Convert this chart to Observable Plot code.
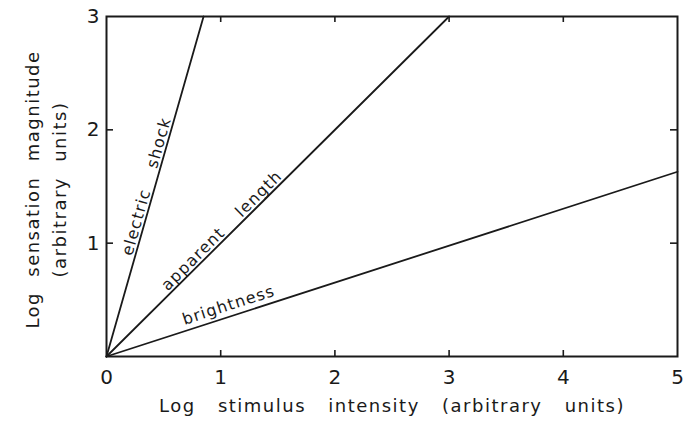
<!DOCTYPE html>
<html>
<head>
<meta charset="utf-8">
<script src="https://cdn.jsdelivr.net/npm/d3@7"></script>
<script src="https://cdn.jsdelivr.net/npm/@observablehq/plot@0.6"></script>
<style>
  html, body { margin: 0; padding: 0; background: #fff; }
  svg text { letter-spacing: 0; }
  .lbl text { letter-spacing: 1.2px; word-spacing: 16px; }
  .ax text { letter-spacing: 1.5px; word-spacing: 15px; }
  .ay text { letter-spacing: 1.5px; word-spacing: 8px; }
</style>
</head>
<body>
<div id="chart"></div>
<script>
// ---- data ----
const series = ["electric shock", "apparent length", "brightness"];
const endX = [0.85, 3, 5];          // x where each line ends
const endY = [3, 3, 1.63];          // y where each line ends
const labelAlongX = [0.42, 1.06, 1.10]; // x on each line where its label sits
const xTickValues = [0, 1, 2, 3, 4, 5];
const yTickValues = [1, 2, 3];
const innerXTicks = [1, 2, 3, 4];
const innerYTicks = [1, 2];
const xLabel = "Log stimulus intensity (arbitrary units)";
const yLabel1 = "Log sensation magnitude";
const yLabel2 = "(arbitrary units)";

// ---- layout ----
const W = 684, H = 438;
const mL = 106, mR = 7, mT = 16, mB = 82;
const plotW = W - mL - mR, plotH = H - mT - mB;
const xDomain = [0, 5], yDomain = [0, 3];
const kx = plotW / (xDomain[1] - xDomain[0]);
const ky = plotH / (yDomain[1] - yDomain[0]);
const gapPx = [3, 3, 6]; // perpendicular gap between line and label baseline
const ink = "#1a1a1a";

const lines = series.flatMap((s, i) => [
  {s, x: 0, y: 0},
  {s, x: endX[i], y: endY[i]}
]);
const labels = series.map((s, i) => {
  const slope = endY[i] / endX[i];
  const a = Math.atan(slope * ky / kx);
  const nx = -Math.sin(a) * gapPx[i] / kx;
  const ny = Math.cos(a) * gapPx[i] / ky;
  return {
    s,
    x: labelAlongX[i] + nx,
    y: slope * labelAlongX[i] + ny,
    angle: -a * 180 / Math.PI
  };
});

const chart = Plot.plot({
  width: W, height: H,
  marginLeft: mL, marginRight: mR, marginTop: mT, marginBottom: mB,
  style: {fontFamily: "DejaVu Sans", color: ink, background: "#fff"},
  x: {domain: xDomain},
  y: {domain: yDomain},
  marks: [
    Plot.frame({stroke: ink, strokeWidth: 2}),
    Plot.axisX({ticks: xTickValues, tickSize: 0, tickPadding: 13, fontSize: 20, label: null, tickFormat: d => String(d)}),
    Plot.axisY({ticks: yTickValues, tickSize: 0, tickPadding: 7, fontSize: 20, label: null, tickFormat: d => String(d)}),
    Plot.tickX(innerXTicks, {x: d => d, insetTop: plotH - 6, stroke: ink, strokeWidth: 1.6}),
    Plot.tickX(innerXTicks, {x: d => d, insetBottom: plotH - 6, stroke: ink, strokeWidth: 1.6}),
    Plot.tickY(innerYTicks, {y: d => d, insetRight: plotW - 7, stroke: ink, strokeWidth: 1.6}),
    Plot.tickY(innerYTicks, {y: d => d, insetLeft: plotW - 7, stroke: ink, strokeWidth: 1.6}),
    Plot.line(lines, {x: "x", y: "y", z: "s", stroke: ink, strokeWidth: 1.8}),
    Plot.text(labels, {x: "x", y: "y", text: "s", rotate: "angle", lineAnchor: "bottom", fontSize: 16, fill: ink, className: "lbl"}),
    Plot.text([xLabel], {frameAnchor: "bottom", textAnchor: "middle", dy: 55, fontSize: 18, fill: ink, className: "ax"}),
    Plot.text([yLabel1], {frameAnchor: "left", textAnchor: "middle", dx: -73, dy: 3, rotate: -90, fontSize: 18, fill: ink, className: "ay"}),
    Plot.text([yLabel2], {frameAnchor: "left", textAnchor: "middle", dx: -46, dy: 3, rotate: -90, fontSize: 18, fill: ink, className: "ay"})
  ]
});
document.getElementById("chart").appendChild(chart);
</script>
</body>
</html>
